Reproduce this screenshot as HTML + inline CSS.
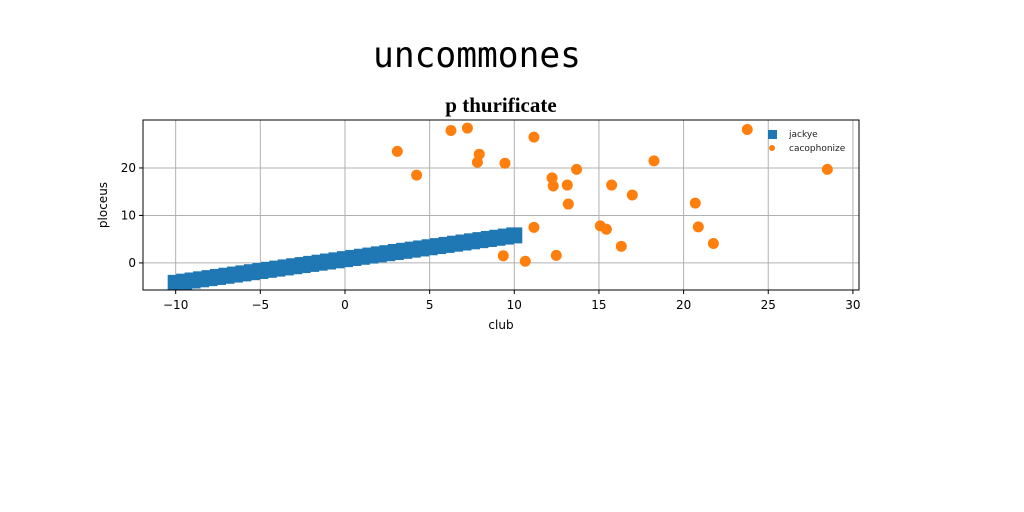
<!DOCTYPE html>
<html><head><meta charset="utf-8"><style>
html,body{margin:0;padding:0;background:#fff;}
svg{display:block;font-family:"DejaVu Sans","Liberation Sans",sans-serif;}
</style></head><body>
<svg id="chart" width="1024" height="512" xmlns="http://www.w3.org/2000/svg">
<text x="477" y="67" text-anchor="middle" font-family="'DejaVu Sans Mono','Liberation Mono',monospace" font-size="36" transform="translate(477,0) scale(0.96,1) translate(-477,0)">uncommones</text>
<text x="501" y="112" text-anchor="middle" font-family="'Liberation Serif',serif" font-weight="bold" font-size="21">p thurificate</text>
<g id="grid"></g>
<g id="marks"></g>
<rect x="143" y="120" width="716" height="170" fill="none" stroke="#000" stroke-width="1"/>
<g id="ticks"></g>
<text x="501" y="329" text-anchor="middle" font-size="12">club</text>
<text x="107" y="205" text-anchor="middle" font-size="12" transform="rotate(-90 107 205)">ploceus</text>
<g>
<rect x="768" y="130" width="9" height="9" fill="#1f77b4"/>
<text x="789" y="137" font-size="9" fill="#222">jackye</text>
<circle cx="772" cy="148" r="3" fill="#ff7f0e"/>
<text x="789" y="151" font-size="9" fill="#222">cacophonize</text>
</g>
</svg>
<script>
const xTicks=[-10,-5,0,5,10,15,20,25,30];
const yTicks=[0,10,20];
const jackyeX=[-10,-9.5,-9,-8.5,-8,-7.5,-7,-6.5,-6,-5.5,-5,-4.5,-4,-3.5,-3,-2.5,-2,-1.5,-1,-0.5,0,0.5,1,1.5,2,2.5,3,3.5,4,4.5,5,5.5,6,6.5,7,7.5,8,8.5,9,9.5,10];
const jackyeY=[-4.2,-3.95,-3.7,-3.45,-3.2,-2.95,-2.7,-2.45,-2.2,-1.95,-1.7,-1.45,-1.2,-0.95,-0.7,-0.45,-0.2,0.05,0.3,0.55,0.8,1.05,1.3,1.55,1.8,2.05,2.3,2.55,2.8,3.05,3.3,3.55,3.8,4.05,4.3,4.55,4.8,5.05,5.3,5.55,5.8];
const cacoX=[3.09,4.23,6.26,7.23,7.93,7.82,9.45,11.16,11.16,9.35,10.65,12.23,12.3,13.13,13.19,13.68,12.48,15.08,15.44,15.75,16.32,16.97,18.25,20.69,20.87,21.76,23.76,28.49];
const cacoY=[23.5,18.5,27.9,28.4,22.9,21.2,21.0,26.5,7.5,1.5,0.35,17.9,16.2,16.4,12.4,19.7,1.6,7.8,7.1,16.4,3.5,14.3,21.5,12.6,7.6,4.1,28.1,19.7];
const X0=143,X1=859,Y0=120,Y1=290,xmin=-11.93,xmax=30.36,ymin=-5.7,ymax=30.1;
const sx=v=>X0+(v-xmin)/(xmax-xmin)*(X1-X0);
const sy=v=>Y1-(v-ymin)/(ymax-ymin)*(Y1-Y0);
const NS="http://www.w3.org/2000/svg";
const mk=(t,p,a)=>{const e=document.createElementNS(NS,t);for(const k in a)e.setAttribute(k,a[k]);p.appendChild(e);return e;};
const grid=document.getElementById('grid'),ticks=document.getElementById('ticks'),marks=document.getElementById('marks');
xTicks.forEach(t=>{const x=sx(t);
 const g=mk('line',grid,{x1:x,x2:x,y1:Y0,y2:Y1,stroke:'#b0b0b0','stroke-width':1});
 
 
 const tk=mk('line',ticks,{x1:x,x2:x,y1:Y1,y2:Y1+4,stroke:'#000'});
 
 
 const l=mk('text',ticks,{x:x,y:Y1+19,'text-anchor':'middle','font-size':12});
 l.textContent=t<0?'\u2212'+(-t):t;
 
 
});
yTicks.forEach(t=>{const y=sy(t);
 const g=mk('line',grid,{x1:X0,x2:X1,y1:y,y2:y,stroke:'#b0b0b0','stroke-width':1});
 
 
 const tk=mk('line',ticks,{x1:X0-4,x2:X0,y1:y,y2:y,stroke:'#000'});
 
 
 const l=mk('text',ticks,{x:X0-7,y:y+4,'text-anchor':'end','font-size':12});
 l.textContent=t;
 
 
});
const clip=mk('clipPath',marks,{id:'pc'});mk('rect',clip,{x:X0,y:Y0,width:X1-X0,height:Y1-Y0});
const mg=mk('g',marks,{'clip-path':'url(#pc)'});
jackyeX.forEach((v,i)=>{
 const r=mk('rect',mg,{x:sx(v)-8,y:sy(jackyeY[i])-8,width:16,height:16,fill:'#1f77b4'});
 
 
});
cacoX.forEach((v,i)=>{
 const c=mk('circle',mg,{cx:sx(v),cy:sy(cacoY[i]),r:5.5,fill:'#ff7f0e'});
 
 
});
</script>
</body></html>
